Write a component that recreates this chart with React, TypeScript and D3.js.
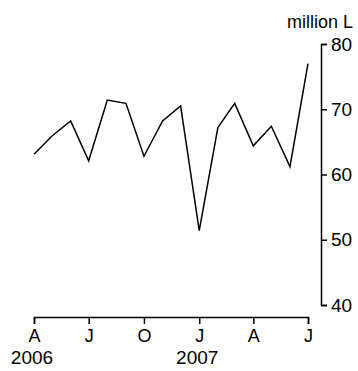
import React, { useEffect, useRef } from "react";
import * as d3 from "d3";

const width = 358;
const height = 371;
const plot = { left: 34, right: 308, top: 44, bottom: 305 };
const xAxisY = 317;
const yAxisX = 321;
const font = "'Liberation Sans', Arial, sans-serif";

// monthly values, Apr 2006 - Jul 2007
const months = [
  "2006-04", "2006-05", "2006-06", "2006-07", "2006-08", "2006-09",
  "2006-10", "2006-11", "2006-12", "2007-01", "2007-02", "2007-03",
  "2007-04", "2007-05", "2007-06", "2007-07",
];
const values = [
  63.1, 65.9, 68.2, 62.1, 71.4, 70.9, 62.8, 68.2,
  70.5, 51.4, 67.2, 70.9, 64.4, 67.4, 61.2, 77.0,
];
const xTickMonths = ["2006-04", "2006-07", "2006-10", "2007-01", "2007-04", "2007-07"];
const xTickLabels = ["A", "J", "O", "J", "A", "J"];
const yearMonths = ["2006-04", "2007-01"];
const yearLabels = ["2006", "2007"];
const yTicks = [40, 50, 60, 70, 80];
const unitLabel = "million L";

const parse = d3.timeParse("%Y-%m");

export default function App() {
  const ref = useRef<SVGSVGElement>(null);

  useEffect(() => {
    const svg = d3.select(ref.current);
    svg.selectAll("*").remove();

    const dates = months.map((m) => parse(m) as Date);
    const x = d3
      .scaleTime()
      .domain(d3.extent(dates) as [Date, Date])
      .range([plot.left, plot.right]);
    const y = d3
      .scaleLinear()
      .domain([40, 80])
      .range([plot.bottom, plot.top]);

    const line = d3
      .line<number>()
      .x((_, i) => x(dates[i]))
      .y((d) => y(d));

    svg
      .append("path")
      .attr("d", line(values))
      .attr("fill", "none")
      .attr("stroke", "#000")
      .attr("stroke-width", 1.5);

    // y axis on the right
    const yAxis = d3
      .axisRight(y)
      .tickValues(yTicks)
      .tickSize(6)
      .tickPadding(4)
      .tickFormat((d) => `${d}`);
    const gy = svg
      .append("g")
      .attr("transform", `translate(${yAxisX},0)`)
      .call(yAxis);
    gy.selectAll("text").attr("font-size", 19).attr("font-family", font).attr("fill", "#000");

    // x axis
    const xTickDates = xTickMonths.map((m) => parse(m) as Date);
    const xAxis = d3
      .axisBottom(x)
      .tickValues(xTickDates)
      .tickSize(7)
      .tickPadding(5)
      .tickFormat((_, i) => xTickLabels[i]);
    const gx = svg
      .append("g")
      .attr("transform", `translate(0,${xAxisY})`)
      .call(xAxis);
    gx.selectAll("text").attr("font-size", 18).attr("font-family", font).attr("fill", "#000");

    [gx, gy].forEach((g) => {
      g.selectAll("path,line").attr("stroke", "#000").attr("stroke-width", 1.5);
    });

    svg
      .append("g")
      .selectAll("text")
      .data(yearMonths)
      .join("text")
      .attr("x", (m) => x(parse(m) as Date) - 2)
      .attr("y", 364)
      .attr("text-anchor", "middle")
      .attr("font-size", 19)
      .attr("font-family", font)
      .text((_, i) => yearLabels[i]);

    svg
      .append("text")
      .attr("x", 353)
      .attr("y", 28)
      .attr("text-anchor", "end")
      .attr("font-size", 18)
      .attr("font-family", font)
      .text(unitLabel);
  }, []);

  return (
    <svg
      ref={ref}
      width={width}
      height={height}
      style={{ position: "absolute", left: 0, top: 0, background: "#fff" }}
    />
  );
}
